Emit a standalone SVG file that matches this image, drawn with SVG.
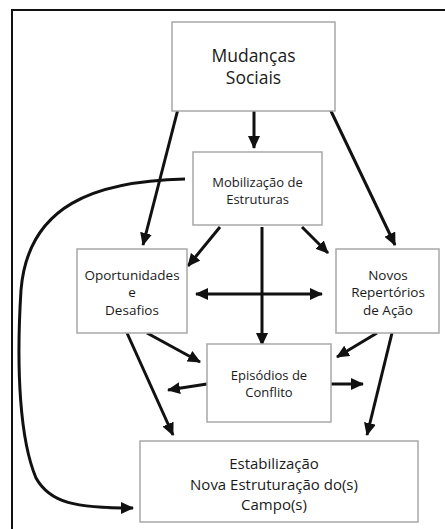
<svg xmlns="http://www.w3.org/2000/svg" width="445" height="529" viewBox="0 0 445 529">
  <style>
    .box { fill: #ffffff; stroke: #a8a8a8; stroke-width: 1.5; }
    .lbl { font-family: "Open Sans", "Noto Sans", sans-serif; fill: #1a1a1a; text-anchor: middle; }
    .edge { fill: none; stroke: #111111; stroke-width: 3; marker-end: url(#head); }
    .edge2 { fill: none; stroke: #111111; stroke-width: 3; marker-start: url(#tail); marker-end: url(#head); }
  </style>
  <defs>
    <marker id="head" viewBox="0 0 13 12" refX="12" refY="6" markerWidth="13" markerHeight="12" markerUnits="userSpaceOnUse" orient="auto">
      <path d="M0,0 L13,6 L0,12 Z" fill="#111111"/>
    </marker>
    <marker id="tail" viewBox="0 0 13 12" refX="1" refY="6" markerWidth="13" markerHeight="12" markerUnits="userSpaceOnUse" orient="auto">
      <path d="M13,0 L0,6 L13,12 Z" fill="#111111"/>
    </marker>
  </defs>

  <rect width="445" height="529" fill="#ffffff"/>
  <!-- outer frame -->
  <path d="M12,535 L12,10 L450,10" fill="none" stroke="#111111" stroke-width="2"/>

  <g id="connectors">
    <path class="edge" d="M254,109 L254,148"/>
    <path class="edge" d="M178,109 L143,245"/>
    <path class="edge" d="M330,109 L395,245"/>
    <path class="edge" d="M220,227 L188,266"/>
    <path class="edge" d="M302,227 L328,253"/>
    <path class="edge" d="M262,227 L262,345"/>
    <path class="edge2" d="M196,294 L322,294"/>
    <path class="edge" d="M147,333 L200,362"/>
    <path class="edge" d="M377,333 L337,357"/>
    <path class="edge" d="M127,333 L173,435"/>
    <path class="edge" d="M392,333 L367,435"/>
    <path class="edge" d="M207,384 L168,390"/>
    <path class="edge" d="M331,384 L363,384"/>
    <path class="edge" d="M185,179 C95,181 28,205 21,290 C16,370 20,440 36,478 C50,503 75,508 133,508"/>
  </g>

  <g id="mudancas">
    <rect class="box" x="172" y="22" width="163" height="89"/>
    <text class="lbl" font-size="17.5" x="253.5" y="62">Mudanças</text>
    <text class="lbl" font-size="17.5" x="253.5" y="84">Sociais</text>
  </g>

  <g id="mobilizacao">
    <rect class="box" x="193" y="152" width="129" height="73"/>
    <text class="lbl" font-size="13" x="257.5" y="187">Mobilização de</text>
    <text class="lbl" font-size="13" x="257.5" y="204">Estruturas</text>
  </g>

  <g id="oportunidades">
    <rect class="box" x="77" y="249" width="110" height="84"/>
    <text class="lbl" font-size="13.5" x="132" y="280">Oportunidades</text>
    <text class="lbl" font-size="13.5" x="132" y="297">e</text>
    <text class="lbl" font-size="13.5" x="132" y="315">Desafios</text>
  </g>

  <g id="repertorios">
    <rect class="box" x="336" y="249" width="103" height="84"/>
    <text class="lbl" font-size="13.5" x="388" y="280">Novos</text>
    <text class="lbl" font-size="13.5" x="388" y="297">Repertórios</text>
    <text class="lbl" font-size="13.5" x="388" y="315">de Ação</text>
  </g>

  <g id="episodios">
    <rect class="box" x="207" y="344" width="124" height="78"/>
    <text class="lbl" font-size="13" x="269" y="380">Episódios de</text>
    <text class="lbl" font-size="13" x="269" y="397">Conflito</text>
  </g>

  <g id="estabilizacao">
    <rect class="box" x="140" y="441" width="278" height="81"/>
    <text class="lbl" font-size="15" x="274" y="469">Estabilização</text>
    <text class="lbl" font-size="15" x="274" y="490">Nova Estruturação do(s)</text>
    <text class="lbl" font-size="15" x="274" y="510">Campo(s)</text>
  </g>
</svg>
